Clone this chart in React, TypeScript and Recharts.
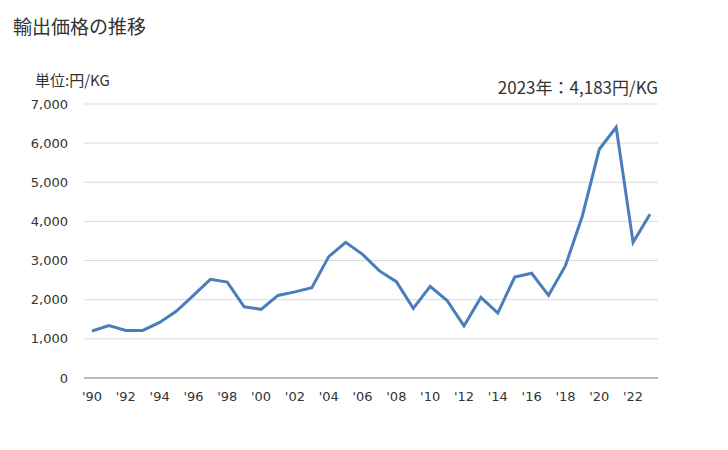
import { CartesianGrid, Line, LineChart, XAxis, YAxis } from "recharts";

const years = [
  "1990", "1991", "1992", "1993", "1994", "1995", "1996", "1997", "1998", "1999",
  "2000", "2001", "2002", "2003", "2004", "2005", "2006", "2007", "2008", "2009",
  "2010", "2011", "2012", "2013", "2014", "2015", "2016", "2017", "2018", "2019",
  "2020", "2021", "2022", "2023",
];

const prices = [
  1200, 1340, 1215, 1215, 1420, 1710, 2110, 2520, 2450, 1820,
  1755, 2110, 2200, 2305, 3100, 3465, 3160, 2735, 2460, 1780,
  2340, 1980, 1330, 2060, 1660, 2580, 2675, 2110, 2870, 4140,
  5843, 6405, 3465, 4183,
];

const yTicks = [0, 1000, 2000, 3000, 4000, 5000, 6000, 7000];

const TEXT = "#333";
const GRID = "#d9d9d9";
const LINE = "#4a7ebb";
const FONT = "'DejaVu Sans', Verdana, sans-serif";
const JP_FONT = "'Noto Sans CJK JP', sans-serif";

const data = years.map((y, i) => ({ year: y, price: prices[i] }));

export default function App() {
  return (
    <div
      style={{
        position: "absolute",
        left: 0,
        top: 0,
        width: 728,
        height: 450,
        background: "#fff",
      }}
    >
      <div
        style={{
          position: "absolute",
          left: 13,
          top: 13,
          fontFamily: JP_FONT,
          fontSize: 19,
          color: TEXT,
          lineHeight: "26px",
        }}
      >
        輸出価格の推移
      </div>
      <div
        style={{
          position: "absolute",
          left: 35,
          top: 69,
          fontFamily: JP_FONT,
          fontSize: 15,
          color: TEXT,
          lineHeight: "22px",
        }}
      >
        単位:円/KG
      </div>
      <div
        style={{
          position: "absolute",
          right: 70,
          top: 75,
          fontFamily: JP_FONT,
          fontSize: 17,
          color: TEXT,
          lineHeight: "24px",
        }}
      >
        2023年：4,183円/KG
      </div>
      <LineChart
        width={728}
        height={450}
        data={data}
        margin={{ top: 104, right: 70, bottom: 0, left: 0 }}
      >
        <CartesianGrid stroke={GRID} vertical={false} />
        <XAxis
          dataKey="year"
          interval={1}
          height={72}
          padding={{ left: 8, right: 8 }}
          tickLine={false}
          stroke="#888"
          tickMargin={8}
          tick={{ fill: TEXT, fontSize: 13, fontFamily: FONT }}
          tickFormatter={(v) => "'" + String(v).slice(2)}
        />
        <YAxis
          width={84}
          domain={[0, 7000]}
          ticks={yTicks}
          axisLine={false}
          tickLine={false}
          tickMargin={10}
          tick={{ fill: TEXT, fontSize: 13, fontFamily: FONT }}
          tickFormatter={(v) => Number(v).toLocaleString("en-US")}
        />
        <Line
          type="linear"
          dataKey="price"
          stroke={LINE}
          strokeWidth={3}
          dot={false}
          isAnimationActive={false}
        />
      </LineChart>
    </div>
  );
}
